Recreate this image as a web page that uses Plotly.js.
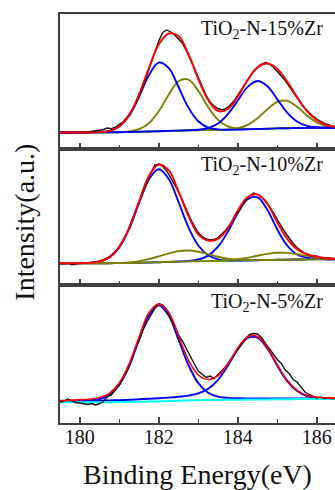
<!DOCTYPE html>
<html><head><meta charset="utf-8">
<script src="https://cdn.plot.ly/plotly-3.0.1.min.js"></script>
<style>html,body{margin:0;padding:0;background:#fff;overflow:hidden}#chart{width:335px;height:490px}</style>
</head><body><div id="chart"></div>
<script>
// Binding energy grids (eV)
const energyFit = [179.5,179.75,180,180.25,180.5,180.75,181,181.25,181.5,181.75,182,182.25,182.5,182.75,183,183.25,183.5,183.75,184,184.25,184.5,184.75,185,185.25,185.5,185.75,186,186.25,186.5];
const energyRaw = [179.5,179.6,179.7,179.8,179.9,180.0,180.1,180.2,180.3,180.4,180.5,180.6,180.7,180.8,180.9,181.0,181.1,181.2,181.3,181.4,181.5,181.6,181.7,181.8,181.9,182.0,182.1,182.2,182.3,182.4,182.5,182.6,182.7,182.8,182.9,183.0,183.1,183.2,183.3,183.4,183.5,183.6,183.7,183.8,183.9,184.0,184.1,184.2,184.3,184.4,184.5,184.6,184.7,184.8,184.9,185.0,185.1,185.2,185.3,185.4,185.5,185.6,185.7,185.8,185.9,186.0,186.1,186.2,186.3,186.4,186.5];

// TiO2-N-15%Zr
const raw15 = [16.2,16.8,16.0,16.5,17.3,16.6,17.4,17.0,17.9,18.2,18.8,19.5,21.0,20.4,21.8,24.5,27.3,32.0,37.5,44.0,52.5,62.0,74.0,86.0,97.5,108.0,116.5,119.0,117.0,114.0,110.0,105.5,98.0,90.0,81.0,71.5,62.0,53.5,47.0,43.0,40.5,39.0,40.5,43.5,48.0,54.0,60.5,67.0,72.5,78.0,82.0,85.0,86.5,85.0,82.0,78.0,73.0,68.5,62.5,56.5,51.5,45.5,40.5,36.5,33.0,30.0,27.5,25.5,24.0,22.5,22.0];
const fit15 = [16.5,16.5,16.5,16.6,16.9,18.2,22.6,33.8,54.6,81.0,104.5,115.5,113.0,95.0,70.0,49.0,38.0,40.0,52.5,69.0,81.5,85.5,80.0,67.5,52.0,38.0,29.0,24.0,22.0];
const bg15 = [16.5,16.5,16.5,16.6,16.6,16.7,16.8,17.0,17.2,17.5,17.8,18.1,18.4,18.6,18.8,18.9,19.0,19.2,19.4,19.7,20.0,20.3,20.6,20.8,21.0,21.1,21.2,21.2,21.3];
const peakA15 = [16.5,16.5,16.5,16.6,16.9,18.2,22.5,33.2,52.0,73.8,86.4,81.1,62.0,41.4,27.7,21.5,19.6,19.3,19.4,19.7,20.0,20.3,20.6,20.8,21.0,21.1,21.2,21.2,21.3];
const peakB15 = [16.5,16.5,16.5,16.6,16.6,16.7,16.8,17.0,17.2,17.5,17.8,18.1,18.4,18.7,19.3,21.0,25.5,34.8,48.5,62.1,68.0,62.7,49.7,36.4,27.5,23.2,21.7,21.3,21.3];
const peakC15 = [16.5,16.5,16.5,16.6,16.6,16.7,16.9,17.6,19.8,25.8,37.8,54.3,67.8,69.4,58.2,41.9,29.1,22.6,20.2,19.9,20.0,20.3,20.6,20.8,21.0,21.1,21.2,21.2,21.3];
const peakD15 = [16.5,16.5,16.5,16.6,16.6,16.7,16.8,17.0,17.2,17.5,17.8,18.1,18.4,18.6,18.8,19.0,19.1,19.5,20.8,24.2,30.8,39.8,47.2,48.2,42.2,33.5,26.7,23.0,21.8];

// TiO2-N-10%Zr
const raw10 = [21.5,21.2,21.8,20.3,21.0,21.9,22.0,22.4,22.3,23.0,23.9,25.2,27.0,30.0,33.5,38.5,45.0,52.5,63.0,73.0,84.0,92.5,102.0,112.0,120.0,121.0,118.5,114.0,107.5,100.5,93.0,84.5,75.0,66.5,59.0,52.5,48.5,46.0,45.0,45.5,47.5,51.0,55.0,60.5,66.5,73.0,79.5,85.0,89.0,92.0,90.5,88.0,84.5,79.0,72.5,65.5,58.5,52.5,47.0,41.5,37.5,34.0,31.5,30.0,28.5,29.0,27.0,26.5,26.8,26.0,26.2];
const fit10 = [21.7,21.7,21.8,22.1,23.5,27.6,37.8,56.8,83.4,109.0,120.5,114.8,93.6,69.1,50.7,44.5,46.0,56.6,74.5,88.0,90.5,81.0,62.5,46.2,35.8,30.8,28.2,26.8,26.1];
const bg10 = [21.7,21.7,21.7,21.7,21.8,21.8,21.9,22.0,22.2,22.5,22.8,23.1,23.4,23.6,23.8,23.9,24.0,24.1,24.3,24.5,24.8,25.0,25.2,25.4,25.5,25.6,25.7,25.7,25.7];
const peakA10 = [21.7,21.7,21.8,22.1,23.5,27.6,37.6,56.2,81.8,105.7,115.8,106.3,83.0,57.8,39.5,29.7,25.7,24.5,24.4,24.5,24.8,25.0,25.2,25.4,25.5,25.6,25.7,25.7,25.7];
const peakB10 = [21.7,21.7,21.7,21.7,21.8,21.8,21.9,22.0,22.2,22.5,22.8,23.1,23.5,24.0,25.5,29.4,38.3,53.4,71.9,85.9,87.6,75.0,55.5,39.5,30.5,27.2,26.1,25.8,25.7];
const peakC10 = [21.7,21.7,21.7,21.7,21.8,21.8,22.1,22.6,23.8,25.8,28.6,31.6,33.9,34.5,33.3,30.9,28.3,26.3,25.3,24.9,24.9,25.0,25.2,25.4,25.5,25.6,25.7,25.7,25.7];
const peakD10 = [21.7,21.7,21.7,21.7,21.8,21.8,21.9,22.0,22.2,22.5,22.8,23.1,23.4,23.6,23.8,23.9,24.2,24.7,25.8,27.3,29.3,31.1,32.2,32.1,30.8,29.2,27.8,26.7,26.1];

// TiO2-N-5%Zr
const raw5 = [21.0,21.8,24.0,22.0,20.5,20.0,19.0,18.5,19.5,18.0,19.5,21.5,26.5,28.0,33.0,38.0,46.0,52.0,62.0,75.0,82.0,93.0,101.0,108.0,114.5,119.5,118.0,113.0,104.0,97.5,88.0,82.0,74.0,66.0,59.0,52.0,48.5,45.5,47.0,44.5,48.5,53.0,56.5,62.5,68.0,74.0,80.0,84.5,88.5,89.5,89.0,85.5,79.5,74.0,69.0,63.5,59.5,53.0,49.5,43.5,41.0,36.5,31.0,28.5,27.0,25.0,26.0,24.5,25.5,24.0,26.0];
const fit5 = [22.5,22.8,23.3,23.8,25.5,29.7,40.0,59.1,85.7,110.2,119.0,110.9,87.2,62.8,48.0,43.5,47.5,59.2,75.1,86.2,86.5,75.3,58.2,42.7,32.7,27.6,25.7,25.1,24.8];
const bg5 = [20.7,20.7,20.7,20.7,20.8,20.8,20.9,21.0,21.2,21.4,21.7,22.0,22.3,22.6,22.8,23.0,23.1,23.2,23.3,23.4,23.5,23.6,23.7,23.8,23.9,23.9,24.0,24.0,24.0];
const peakA5 = [21.5,21.7,22.0,22.4,23.9,27.9,38.0,56.9,83.2,107.4,117.7,107.5,83.3,58.0,39.9,30.3,26.4,25.1,24.8,24.6,24.6,24.6,24.6,24.6,24.6,24.5,24.5,24.5,24.4];
const peakB5 = [21.7,21.8,22.0,22.1,22.4,22.6,22.9,23.2,23.7,24.2,24.8,25.4,26.2,27.4,29.6,34.3,43.2,57.3,73.6,85.0,85.4,74.3,57.3,41.9,32.0,27.0,25.2,24.6,24.4];

const sampleLabels = ['TiO<sub>2</sub>-N-15%Zr','TiO<sub>2</sub>-N-10%Zr','TiO<sub>2</sub>-N-5%Zr'];
const xTitle = 'Binding Energy(eV)';
const yTitle = 'Intensity(a.u.)';

const FONT = 'Liberation Serif, Times New Roman, serif';
const C = {raw:'#111111', fit:'#ff0000', blue:'#0000ff', olive:'#808000', green:'#00ff00', cyan:'#00ffff'};

function tr(x, y, color, width, xa, ya, shape) {
  return {x:x, y:y, type:'scatter', mode:'lines', xaxis:xa, yaxis:ya,
    line:{color:color, width:width, shape:shape || 'spline', smoothing:1},
    hoverinfo:'skip', showlegend:false};
}

const data = [
  // top panel (x3/y3)
  tr(energyFit, bg15, C.green, 1.6, 'x3', 'y3'),
  tr(energyFit, peakC15, C.olive, 1.9, 'x3', 'y3'),
  tr(energyFit, peakD15, C.olive, 1.9, 'x3', 'y3'),
  tr(energyFit, peakA15, C.blue, 1.9, 'x3', 'y3'),
  tr(energyFit, peakB15, C.blue, 1.9, 'x3', 'y3'),
  tr(energyRaw, raw15, C.raw, 1.4, 'x3', 'y3', 'linear'),
  tr(energyFit, fit15, C.fit, 1.9, 'x3', 'y3'),
  // middle panel (x2/y2)
  tr(energyFit, bg10, C.green, 1.6, 'x2', 'y2'),
  tr(energyFit, peakA10, C.blue, 1.9, 'x2', 'y2'),
  tr(energyFit, peakB10, C.blue, 1.9, 'x2', 'y2'),
  tr(energyFit, peakC10, C.olive, 1.9, 'x2', 'y2'),
  tr(energyFit, peakD10, C.olive, 1.9, 'x2', 'y2'),
  tr(energyRaw, raw10, C.raw, 1.4, 'x2', 'y2', 'linear'),
  tr(energyFit, fit10, C.fit, 1.9, 'x2', 'y2'),
  // bottom panel (x/y)
  tr(energyFit, peakA5, C.blue, 1.9, 'x', 'y'),
  tr(energyFit, peakB5, C.blue, 1.9, 'x', 'y'),
  tr(energyFit, bg5, C.cyan, 2, 'x', 'y'),
  tr(energyRaw, raw5, C.raw, 1.4, 'x', 'y', 'linear'),
  tr(energyFit, fit5, C.fit, 1.6, 'x', 'y')
];

const frame = '#404040';
function xax(anchor, labels) {
  return {anchor:anchor, range:[179.5, 186.46], tick0:180, dtick:2,
    ticks:'inside', ticklen:6, tickwidth:1.5, tickcolor:frame,
    showticklabels:labels, tickfont:{family:FONT, size:20, color:'#111'},
    ticklabelstandoff:-5,
    showline:true, linecolor:frame, linewidth:1.6, mirror:true,
    showgrid:false, zeroline:false, fixedrange:true,
    minor:{dtick:1, tick0:181, ticks:'inside', ticklen:4, tickwidth:1.2, tickcolor:frame, showgrid:false}};
}
function yax(domain, top) {
  return {domain:domain, range:[0, top], showticklabels:false, ticks:'',
    showline:true, linecolor:frame, linewidth:1.6, mirror:false,
    showgrid:false, zeroline:false, fixedrange:true};
}

const xa1 = xax('y', true);
xa1.title = {text:xTitle, font:{family:FONT, size:28, color:'#111'}, standoff:23};

const layout = {
  width:335, height:490,
  margin:{l:60, r:0, t:14, b:67},
  paper_bgcolor:'#ffffff', plot_bgcolor:'#ffffff',
  font:{family:FONT, color:'#111'},
  showlegend:false,
  xaxis:xa1,
  xaxis2:xax('y2', false),
  xaxis3:xax('y3', false),
  yaxis:yax([0, 0.3374], 138),
  yaxis2:yax([0.3374, 0.6699], 136),
  yaxis3:yax([0.6699, 1], 135),
  annotations:[
    {text:sampleLabels[0], xref:'paper', yref:'paper', x:0.964, y:0.9633, xanchor:'right', yanchor:'middle', showarrow:false, font:{family:FONT, size:20, color:'#111'}},
    {text:sampleLabels[1], xref:'paper', yref:'paper', x:0.964, y:0.6289, xanchor:'right', yanchor:'middle', showarrow:false, font:{family:FONT, size:20, color:'#111'}},
    {text:sampleLabels[2], xref:'paper', yref:'paper', x:0.964, y:0.2934, xanchor:'right', yanchor:'middle', showarrow:false, font:{family:FONT, size:20, color:'#111'}},
    {text:yTitle, xref:'paper', yref:'paper', x:-0.127, y:0.49, xanchor:'center', yanchor:'middle', textangle:-90, showarrow:false, font:{family:FONT, size:28, color:'#111'}}
  ]
};

Plotly.newPlot('chart', data, layout, {displayModeBar:false, staticPlot:true});
</script>
</body></html>
